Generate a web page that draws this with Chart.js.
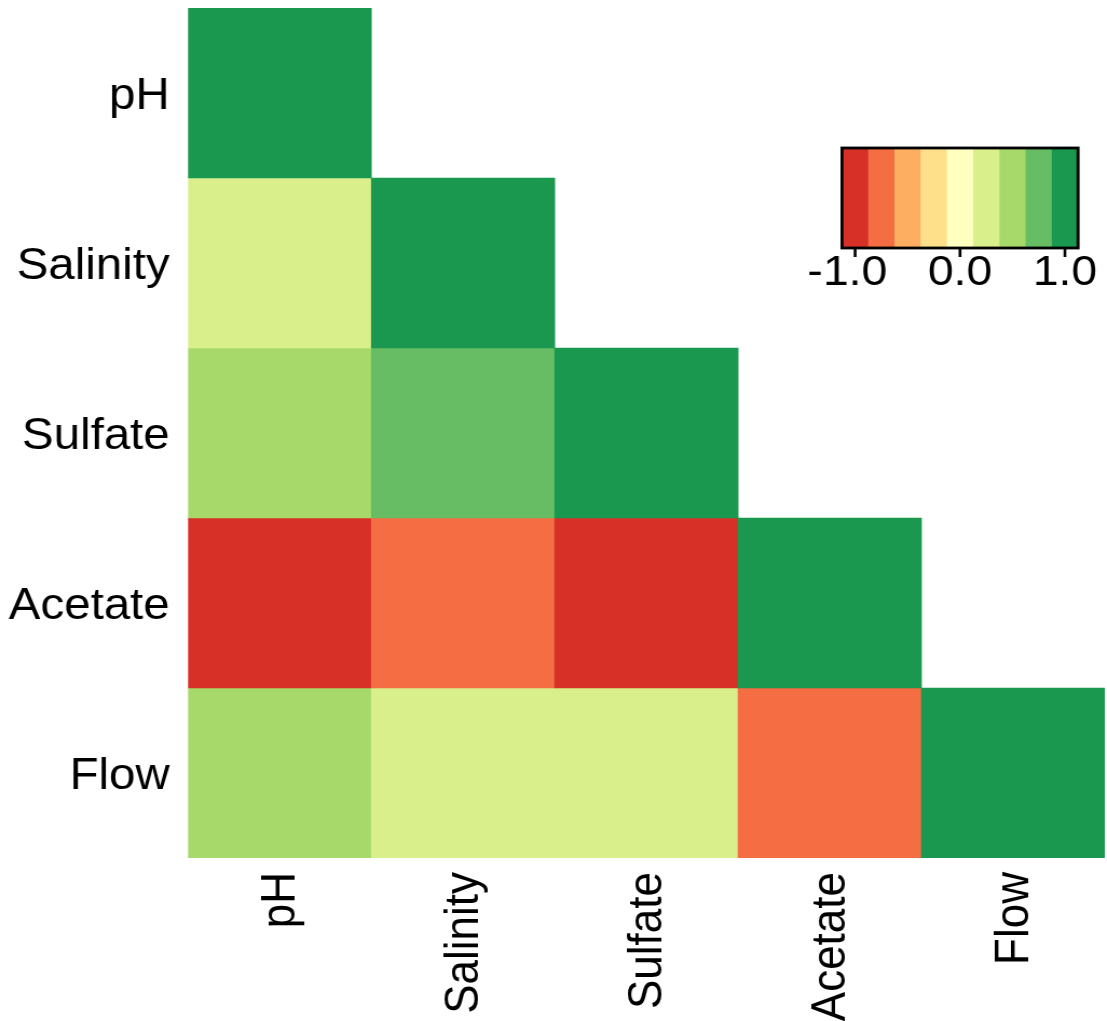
<!DOCTYPE html>
<html>
<head>
<meta charset="utf-8">
<script src="https://cdn.jsdelivr.net/npm/chart.js@4.4.1/dist/chart.umd.min.js"></script>
<style>
  html, body { margin: 0; padding: 0; background: #ffffff; overflow: hidden; }
  #wrap { width: 1026px; height: 1021px; transform: scaleX(1.0789); transform-origin: 0 0; }
  canvas { display: block; }
</style>
</head>
<body>
<div id="wrap"><canvas id="c" width="1026" height="1021"></canvas></div>
<script>
// ---- data ----
const variables = ['pH', 'Salinity', 'Sulfate', 'Acetate', 'Flow'];
const rowPH       = [1.00];
const rowSalinity = [0.25, 1.00];
const rowSulfate  = [0.45, 0.65, 1.00];
const rowAcetate  = [-0.90, -0.65, -0.90, 1.00];
const rowFlow     = [0.45, 0.25, 0.25, -0.65, 1.00];
const colorSteps = ['#d73027', '#f46d43', '#fdae61', '#fee08b', '#ffffbf',
                    '#d9ef8b', '#a6d96a', '#66bd63', '#1a9850'];
const legendTicks = [-1.0, 0.0, 1.0];
const legendTickLabels = ['-1.0', '0.0', '1.0'];

const rows = [rowPH, rowSalinity, rowSulfate, rowAcetate, rowFlow];

function colorFor(v) {
  let k = Math.floor((v + 1) / 2 * colorSteps.length);
  if (k < 0) k = 0;
  if (k > colorSteps.length - 1) k = colorSteps.length - 1;
  return colorSteps[k];
}

const datasets = rows.map((row, i) => ({
  label: variables[i],
  data: variables.map((_, j) => (j < row.length ? [i, i + 1] : null)),
  backgroundColor: variables.map((_, j) => (j < row.length ? colorFor(row[j]) : 'rgba(0,0,0,0)')),
  borderWidth: 0,
  borderSkipped: false,
  barPercentage: 1.0,
  categoryPercentage: 1.0,
  grouped: false
}));

const FONT = "'Liberation Sans', Arial, Helvetica, sans-serif";

const colorbarPlugin = {
  id: 'colorbar',
  afterDraw(chart) {
    const ctx = chart.ctx;
    const left = 780.4, right = 999.2, top = 148, bottom = 248;
    const n = colorSteps.length;
    const bw = (right - left) / n;
    ctx.save();
    colorSteps.forEach((c, k) => {
      ctx.fillStyle = c;
      ctx.fillRect(left + k * bw, top, bw + 0.5, bottom - top);
    });
    ctx.lineWidth = 2.8;
    ctx.strokeStyle = '#000';
    ctx.strokeRect(left, top, right - left, bottom - top);
    ctx.font = '43px ' + FONT;
    ctx.fillStyle = '#000';
    ctx.textBaseline = 'alphabetic';
    legendTicks.forEach((v, idx) => {
      const k = (v + 1) / 2 * (n - 1);
      const x = left + bw * (k + 0.5);
      ctx.lineWidth = 2.6;
      ctx.beginPath();
      ctx.moveTo(x, bottom);
      ctx.lineTo(x, bottom + 9);
      ctx.stroke();
      const lab = legendTickLabels[idx];
      const core = lab.replace(/^-/, '');
      const w = ctx.measureText(core).width;
      ctx.textAlign = 'right';
      ctx.fillText(lab, x + w / 2, 285);
    });
    ctx.restore();
  }
};

new Chart(document.getElementById('c'), {
  type: 'bar',
  data: { labels: variables, datasets },
  options: {
    responsive: false,
    animation: false,
    devicePixelRatio: 1,
    layout: { padding: { top: 8, right: 2, left: 0, bottom: 0 } },
    plugins: { legend: { display: false }, tooltip: { enabled: false } },
    scales: {
      x: {
        type: 'category',
        offset: true,
        grid: { display: false, drawTicks: false },
        border: { display: false },
        ticks: {
          autoSkip: false,
          minRotation: 90,
          maxRotation: 90,
          padding: 14,
          labelOffset: 2,
          color: '#000',
          font: { family: FONT, size: 44 }
        },
        afterFit(scale) {
          scale.height = 163;
          scale.paddingLeft = 0; scale.paddingRight = 0;
        }
      },
      y: {
        type: 'linear',
        min: 0,
        max: 5,
        reverse: true,
        grid: { display: false, drawTicks: false },
        border: { display: false },
        afterBuildTicks(scale) {
          scale.ticks = variables.map((_, i) => ({ value: i + 0.5 }));
        },
        ticks: {
          autoSkip: false,
          padding: 17,
          labelOffset: 4,
          color: '#000',
          font: { family: FONT, size: 44 },
          callback: (v) => variables[Math.floor(v)]
        },
        afterFit(scale) {
          scale.width = 174.3;
          scale.paddingTop = 0; scale.paddingBottom = 0;
        }
      }
    }
  },
  plugins: [colorbarPlugin]
});
</script>
</body>
</html>
